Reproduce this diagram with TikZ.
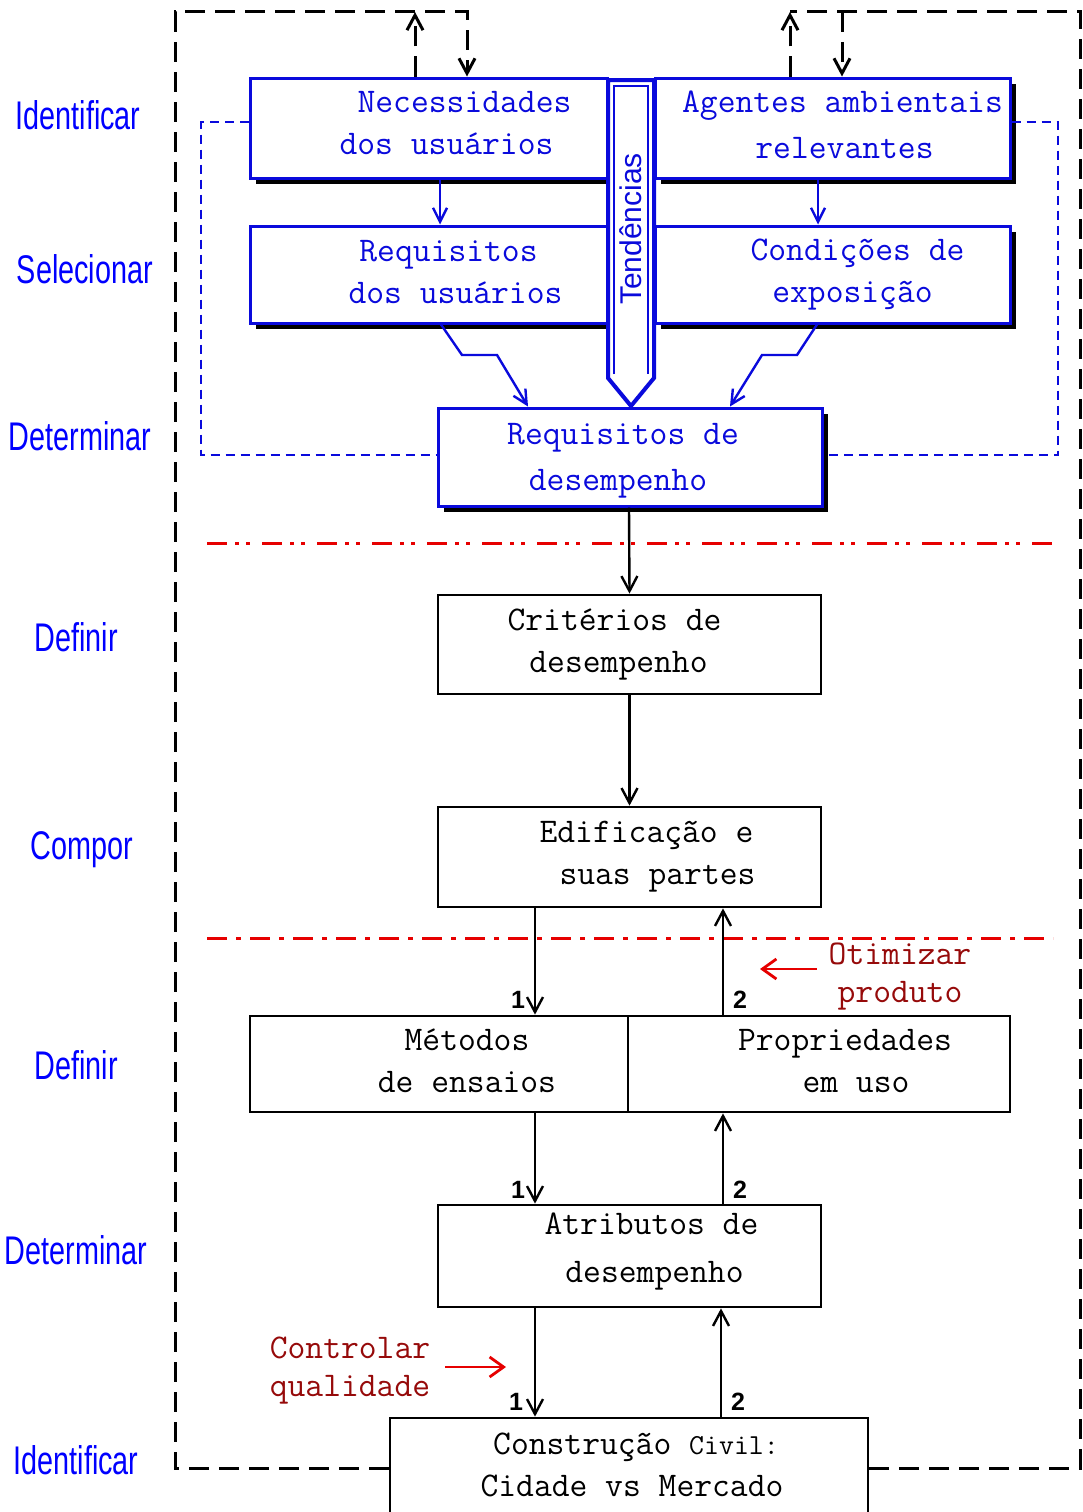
\documentclass[tikz,border=0pt]{standalone}
\usepackage{fontspec}
\newfontfamily\labfont{Liberation Sans}
\usetikzlibrary{arrows.meta,shadows}
\definecolor{bl}{RGB}{10,10,220}
\definecolor{lb}{RGB}{0,0,255}
\definecolor{rd}{RGB}{230,0,0}
\definecolor{drd}{RGB}{150,10,10}
\newcommand\rs[2]{\hbox{\kern#1pt\kern#1pt\relax#2}}
\newcommand\lab[1]{\scalebox{0.72}[1]{#1}}
\begin{document}
\begin{tikzpicture}[x=1pt,y=-1pt,
  txt/.style={font=\fontsize{34.6}{42}\selectfont\ttfamily, align=center},
  wide/.style={font=\fontsize{34.6}{#1}\selectfont\ttfamily},
  bbox/.style={txt, draw=bl, text=bl, line width=3pt, fill=white, inner sep=0pt,
     drop shadow={shadow xshift=6pt,shadow yshift=-6pt,fill=black,opacity=1}},
  kbox/.style={txt, draw=black, line width=2.8pt, fill=white, inner sep=0pt},
  steplab/.style={font=\fontsize{40}{42}\selectfont\labfont, text=lb, inner sep=0pt},
  num/.style={font=\fontsize{25}{26}\selectfont\labfont\bfseries, inner sep=0pt},
  note/.style={font=\fontsize{34.6}{38}\selectfont\ttfamily, align=center, text=drd, inner sep=0pt},
  karr/.style={draw=black, line width=2.4pt, -{Straight Barb[length=15pt,width=16pt]}},
  barr/.style={draw=bl, line width=2.4pt, -{Straight Barb[length=14pt,width=14pt]}},
  rarr/.style={draw=rd, line width=2.8pt, -{Straight Barb[length=14pt,width=20pt]}},
  kframe/.style={draw=black, line width=3pt, dash pattern=on 20pt off 10pt},
  kframearr/.style={kframe, -{Straight Barb[length=15pt,width=16pt]}},
  bframe/.style={draw=bl, line width=2.8pt, dash pattern=on 9pt off 6pt},
  rlinedd/.style={draw=rd, line width=3pt, dash pattern=on 20pt off 8pt on 4pt off 7pt on 4pt off 12pt},
  rlined/.style={draw=rd, line width=3pt, dash pattern=on 20pt off 9pt on 5pt off 9pt}
]
\useasboundingbox (0,0) rectangle (1083,1512);
\clip (0,0) rectangle (1083,1512);
\fill[white] (0,0) rectangle (1083,1512);

% step labels
\node[steplab] (L1) at (78,115) {\lab{Identificar}};
\node[steplab] (L2) at (85,269) {\lab{Selecionar}};
\node[steplab] (L3) at (80,436) {\lab{Determinar}};
\node[steplab] (L4) at (76,637) {\lab{Definir}};
\node[steplab] (L5) at (82,850) {\lab{Compor}};
\node[steplab] (L6) at (76,1065) {\lab{Definir}};
\node[steplab] (L7) at (76,1250) {\lab{Determinar}};
\node[steplab] (L8) at (76,1460) {\lab{Identificar}};

% red separators
\draw[rlinedd] (207,543) -- (1053,543);
\draw[rlined] (207,938) -- (1053,938);

% blue boxes
\node[bbox, text depth=10pt, minimum width=357pt, minimum height=100pt] (nec) at (428.5,128) {\rs{36}{Necessidades}\\\rs{18}{dos usuários}};
\node[bbox, wide=46, text depth=6pt, minimum width=355pt, minimum height=100pt] (agt) at (832.5,128) {\rs{10}{Agentes ambientais}\\\rs{12}{relevantes}};
\node[bbox, text depth=6pt, minimum width=357pt, minimum height=97pt] (reqU) at (428.5,274.5) {\rs{20}{Requisitos}\\\rs{27}{dos usuários}};
\node[bbox, minimum width=355pt, minimum height=97pt] (cond) at (832.5,274.5) {\rs{25}{Condições de}\\\rs{20}{exposição}};
\node[bbox, wide=46, text depth=0pt, minimum width=384pt, minimum height=98pt] (reqD) at (630,457) {\rs{-7}{Requisitos de}\\\rs{-12}{desempenho}};

% Tendencias arrow
\draw[bl, line width=4pt, fill=white, line join=miter]
  (608,80) -- (608,378) -- (631,406) -- (654,378) -- (654,80) -- cycle;
\draw[bl, line width=1.2pt] (614,374) -- (614,86) -- (648,86) -- (648,374);
\node[rotate=90, font=\fontsize{30}{32}\selectfont\labfont, text=bl, inner sep=0pt] (tend) at (631,229) {Tendências};

% black boxes
\node[kbox, minimum width=383pt, minimum height=99pt] (crit) at (629.5,644.5) {\rs{-15}{Critérios de}\\\rs{-11}{desempenho}};
\node[kbox, minimum width=383pt, minimum height=100pt] (edif) at (629.5,857) {\rs{17}{Edificação e}\\\rs{28}{suas partes}};
\node[kbox, text depth=6pt, minimum width=378pt, minimum height=96pt] (met) at (439,1064) {\rs{28}{Métodos}\\\rs{28}{de ensaios}};
\node[kbox, text depth=6pt, minimum width=382pt, minimum height=96pt] (prop) at (819,1064) {\rs{26}{Propriedades}\\\rs{37}{em uso}};
\node[kbox, wide=48, text depth=17pt, minimum width=383pt, minimum height=102pt] (atr) at (629.5,1256) {\rs{22}{Atributos de}\\\rs{25}{desempenho}};
\node[kbox, text depth=6pt, minimum width=478pt, minimum height=100pt] (cons) at (629,1468) {\rs{7}{Construção {\fontsize{29}{30}\selectfont Civil:}}\\\rs{3}{Cidade vs Mercado}};

% outer feedback frame
\draw[kframearr] (cons.west) -- (175,1468) -- (175,12) -- (467,12) -- ([xshift=38.5pt]nec.north);
\draw[kframearr] ([xshift=-13.5pt]nec.north) -- (415,12);
\draw[kframe] (cons.east) -- (1080,1468) -- (1080,12) -- (790,12);
\draw[kframearr] ([xshift=-42.5pt]agt.north) -- (790,12);
\draw[kframearr] (842,12) -- ([xshift=9.5pt]agt.north);

% blue dashed frame
\draw[bframe] ([yshift=6pt]nec.west) -- (201,122) -- (201,455) -- ([yshift=2pt]reqD.west);
\draw[bframe] ([yshift=6pt]agt.east) -- (1058,122) -- (1058,455) -- ([yshift=2pt]reqD.east);

% blue connectors
\draw[barr] ([xshift=11.5pt]nec.south) -- ([xshift=11.5pt]reqU.north);
\draw[barr] ([xshift=-14.5pt]agt.south) -- ([xshift=-14.5pt]cond.north);
\draw[barr] ([xshift=12.5pt]reqU.south) -- (462,355) -- (497,355) -- ([xshift=-102pt]reqD.north);
\draw[barr] ([xshift=-15.5pt]cond.south) -- (797,355) -- (762,355) -- ([xshift=100pt]reqD.north);

% black connectors
\draw[karr] ([xshift=-1pt]reqD.south) -- (crit.north);
\draw[karr] (crit.south) -- (edif.north);
\draw[karr] ([xshift=-94.5pt]edif.south) -- ([xshift=96pt]met.north);
\draw[karr] ([xshift=-96pt]prop.north) -- ([xshift=93.5pt]edif.south);
\draw[karr] ([xshift=96pt]met.south) -- ([xshift=-94.5pt]atr.north);
\draw[karr] ([xshift=93.5pt]atr.north) -- ([xshift=-96pt]prop.south);
\draw[karr] ([xshift=-94.5pt]atr.south) -- ([xshift=-94pt]cons.north);
\draw[karr] ([xshift=92pt]cons.north) -- ([xshift=91.5pt]atr.south);

\node[num] (n1a) at (518,1000) {1};
\node[num] (n2a) at (740,1000) {2};
\node[num] (n1b) at (518,1190) {1};
\node[num] (n2b) at (740,1190) {2};
\node[num] (n1c) at (516,1402) {1};
\node[num] (n2c) at (738,1402) {2};

% red notes
\node[note] (otim) at (900,976.5) {Otimizar\\produto};
\coordinate (otimTip) at (760,969);
\draw[rarr] ([xshift=-12pt,yshift=7.5pt]otim.west) -- (otimTip);
\node[note] (ctrl) at (350,1371) {Controlar\\qualidade};
\coordinate (ctrlTip) at (506,1367);
\draw[rarr] ([xshift=15pt,yshift=4pt]ctrl.east) -- (ctrlTip);
\end{tikzpicture}
\end{document}
